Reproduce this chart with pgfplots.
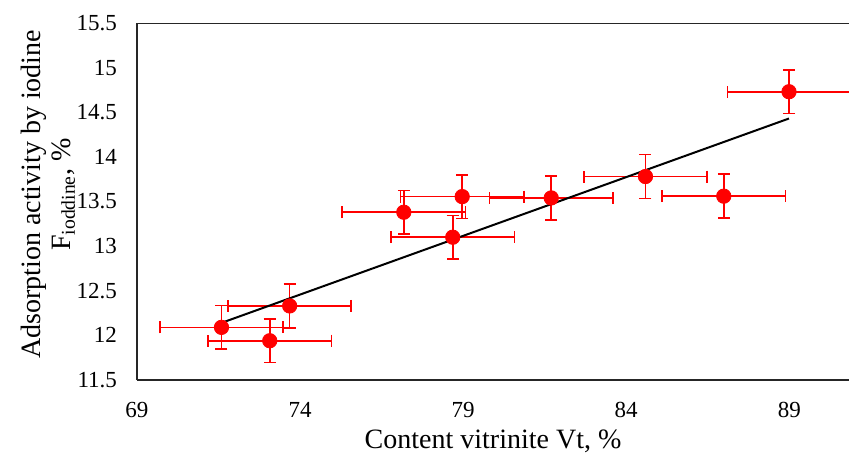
\documentclass[border=0pt]{standalone}
\usepackage{pgfplots}
\pgfplotsset{compat=1.18}
\usepackage{fontspec}
\setmainfont{Liberation Serif}
\begin{document}
\begin{tikzpicture}
\path[use as bounding box] (-68.5pt,-41pt) rectangle (356pt,190pt);
\begin{axis}[
  at={(0,0)}, anchor=south west,
  scale only axis, width=356pt, height=178.5pt,
  xmin=69, xmax=90.83, ymin=11.5, ymax=15.5,
  xtick={69,74,79,84,89},
  ytick={11.5,12,12.5,13,13.5,14,14.5,15,15.5},
  axis x line*=bottom, axis y line*=left,
  axis line style={line width=0.9pt, black!85, -},
  major tick length=0pt,
  /pgf/number format/assume math mode=true,
  ticklabel style={font=\fontsize{11.5}{13}\selectfont},
  yticklabel style={xshift=-6.5pt},
  xticklabel style={yshift=-7.5pt},
  xlabel={Content vitrinite Vt, \%},
  every axis x label/.style={at={(axis description cs:0.5,0)}, anchor=north, yshift=-21.5pt, font=\fontsize{14}{16.5}\selectfont},
  ylabel={Adsorption activity by iodine\\F\textsubscript{ioddine}, \%},
  every axis y label/.style={at={(axis description cs:-0.077,0.52)}, rotate=90, anchor=south, align=center, font=\fontsize{14}{15}\selectfont},
]
\addplot[only marks, mark=*, mark size=3.6pt, red,
  error bars/.cd, x dir=both, x explicit, y dir=both, y explicit,
  error bar style={line width=0.8pt, red},
  error mark options={rotate=90, mark size=3pt, line width=0.8pt, red}]
  table[x=x, y=y, x error=ex, y error=ey] {
x     y      ex    ey
71.59 12.09  1.89  0.245
73.07 11.94  1.89  0.245
73.68 12.33  1.89  0.245
77.18 13.38  1.89  0.245
78.68 13.10  1.89  0.245
78.97 13.555 1.89  0.245
81.70 13.54  1.89  0.245
84.59 13.78  1.89  0.245
86.99 13.56  1.89  0.245
88.99 14.73  1.89  0.245
};
\addplot[black, line width=1pt] coordinates {(71.59,12.14) (88.99,14.43)};
\draw[line width=0.9pt, black!85] (rel axis cs:0,1) -- (rel axis cs:1,1);
\end{axis}
\end{tikzpicture}
\end{document}
